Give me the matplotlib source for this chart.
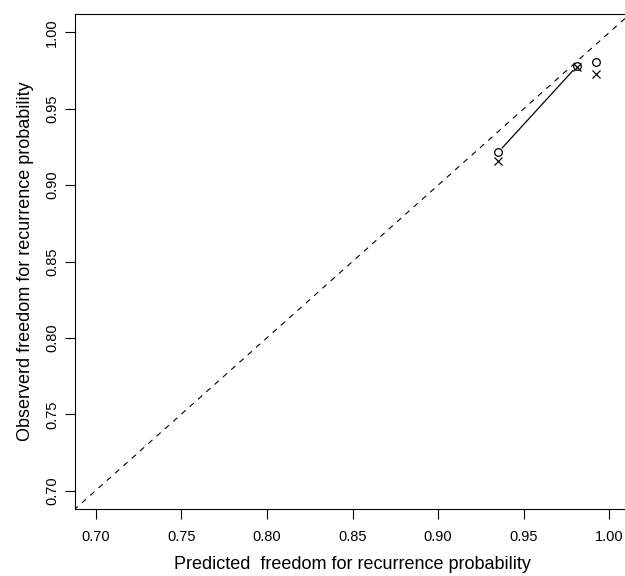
import matplotlib
matplotlib.use("Agg")
import matplotlib.pyplot as plt
import numpy as np

plt.rcParams['font.family'] = ['Liberation Sans', 'DejaVu Sans']

# apparent (o) and bias-corrected (x) calibration points
pred = [0.935, 0.981, 0.992]
obs_apparent = [0.9214, 0.9778, 0.9804]
obs_corrected = [0.9157, 0.9770, 0.9724]

ticks = [0.70, 0.75, 0.80, 0.85, 0.90, 0.95, 1.00]
tick_labels = ["0.70", "0.75", "0.80", "0.85", "0.90", "0.95", "1.00"]
lims = (0.688, 1.012)

fig = plt.figure(figsize=(6.25, 5.76), dpi=100)
ax = fig.add_axes([75/625, 1 - 509/576, (630 - 75)/625, (509 - 14)/576])

ax.set_xlim(*lims)
ax.set_ylim(*lims)

# ideal line
ax.plot([0, 1.1], [0, 1.1], color="black", lw=0.8, linestyle=(0, (5, 5)))

# type="b" style line: segments with gaps around the points,
# skipped when too short to show
fig.canvas.draw()
pts = ax.transData.transform(np.column_stack([pred, obs_apparent]))
gap = 6.0
inv = ax.transData.inverted()
for p0, p1 in zip(pts[:-1], pts[1:]):
    d = p1 - p0
    L = np.hypot(*d)
    if L > 4 * gap:
        u = d / L
        a = inv.transform(p0 + u * gap)
        b = inv.transform(p1 - u * gap)
        ax.plot([a[0], b[0]], [a[1], b[1]], color="black", lw=0.9)

ax.plot(pred, obs_apparent, linestyle="none", marker="o", markersize=5.5,
        markerfacecolor="none", markeredgecolor="black", markeredgewidth=0.9)
ax.plot(pred, obs_corrected, linestyle="none", marker="x", markersize=5.5,
        color="black", markeredgewidth=0.9)

ax.set_xticks(ticks)
ax.set_xticklabels(tick_labels)
ax.set_yticks(ticks)
ax.set_yticklabels(tick_labels, rotation=90, va="center")
ax.tick_params(direction="out", length=7, width=0.8, labelsize=10.5)
ax.tick_params(axis="x", pad=8)
ax.tick_params(axis="y", pad=4.5)

for s in ax.spines.values():
    s.set_linewidth(0.8)

ax.set_xlabel("Predicted  freedom for recurrence probability", fontsize=13, labelpad=8.5)
ax.set_ylabel("Observerd freedom for recurrence probability", fontsize=13, labelpad=8)

fig.savefig("out.png", dpi=100)
